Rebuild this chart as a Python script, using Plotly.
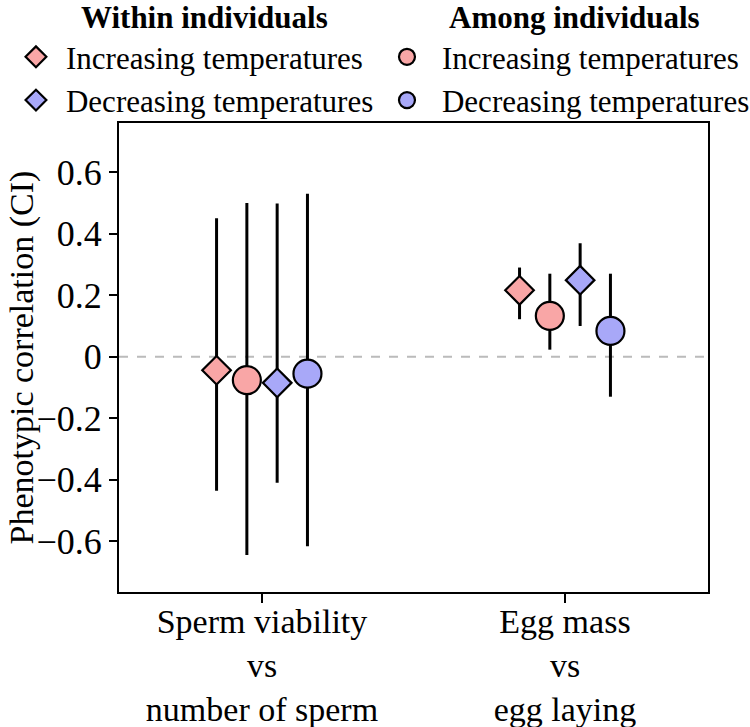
import plotly.graph_objects as go

# ---- data ----
categories = ["Sperm viability<br>vs<br>number of sperm", "Egg mass<br>vs<br>egg laying"]

within_inc_est = [-0.044, 0.216]
within_inc_lo = [-0.436, 0.122]
within_inc_hi = [0.450, 0.290]

among_inc_est = [-0.076, 0.133]
among_inc_lo = [-0.645, 0.023]
among_inc_hi = [0.500, 0.270]

within_dec_est = [-0.085, 0.249]
within_dec_lo = [-0.410, 0.100]
within_dec_hi = [0.498, 0.369]

among_dec_est = [-0.055, 0.084]
among_dec_lo = [-0.616, -0.130]
among_dec_hi = [0.530, 0.270]

ytick_vals = [-0.6, -0.4, -0.2, 0, 0.2, 0.4, 0.6]
ytick_text = ["\u22120.6", "\u22120.4", "\u22120.2", "0", "0.2", "0.4", "0.6"]

PINK = "#F9A6A6"
BLUE = "#A8A8F8"
FONT = "Liberation Serif"

fig = go.Figure()

series = [
    ("Increasing temperatures", within_inc_est, within_inc_lo, within_inc_hi, PINK, "diamond", 22, "legend", "g1"),
    ("Increasing temperatures", among_inc_est, among_inc_lo, among_inc_hi, PINK, "circle", 28, "legend2", "g2"),
    ("Decreasing temperatures", within_dec_est, within_dec_lo, within_dec_hi, BLUE, "diamond", 22, "legend", "g3"),
    ("Decreasing temperatures", among_dec_est, among_dec_lo, among_dec_hi, BLUE, "circle", 28, "legend2", "g4"),
]

for name, est, lo, hi, col, sym, size, leg, og in series:
    fig.add_trace(go.Scatter(
        x=categories, y=est, name=name, mode="markers",
        legend=leg, offsetgroup=og,
        marker=dict(symbol=sym, size=size, color=col, line=dict(color="black", width=2.2)),
        error_y=dict(type="data", symmetric=False,
                     array=[h - e for h, e in zip(hi, est)],
                     arrayminus=[e - l for e, l in zip(est, lo)],
                     color="black", thickness=3, width=0),
    ))

fig.add_hline(y=0, line=dict(color="#BBBBBB", width=2, dash="dash"), layer="below")

fig.update_layout(
    width=750, height=727,
    margin=dict(l=119, r=42, t=123, b=135, autoexpand=False),
    plot_bgcolor="white", paper_bgcolor="white",
    font=dict(family=FONT, size=34, color="black"),
    scattermode="group", scattergap=0.6,
    showlegend=True,
    legend=dict(x=-0.1919, y=1.198, xanchor="left", yanchor="top",
                font=dict(family=FONT, size=31), bgcolor="rgba(0,0,0,0)",
                itemsizing="trace", itemwidth=50, tracegroupgap=0),
    legend2=dict(x=0.4295, y=1.198, xanchor="left", yanchor="top",
                 font=dict(family=FONT, size=31), bgcolor="rgba(0,0,0,0)",
                 itemsizing="trace", itemwidth=60, tracegroupgap=0),
    annotations=[
        dict(text="<b>Within individuals</b>", x=0.146, y=1.226, xref="paper", yref="paper",
             showarrow=False, font=dict(family=FONT, size=31), xanchor="center", yanchor="middle"),
        dict(text="<b>Among individuals</b>", x=0.7725, y=1.226, xref="paper", yref="paper",
             showarrow=False, font=dict(family=FONT, size=31), xanchor="center", yanchor="middle"),
        dict(text="Phenotypic correlation (CI)", x=-0.1647, y=0.5, xref="paper", yref="paper",
             showarrow=False, textangle=-90, font=dict(family=FONT, size=34),
             xanchor="center", yanchor="middle"),
    ],
)

fig.update_xaxes(
    type="category", range=[-0.472, 1.472], automargin=False,
    showline=True, linecolor="black", linewidth=2, mirror=True,
    ticks="outside", ticklen=9, tickwidth=2, tickcolor="black",
    ticklabelstandoff=-11,
    showgrid=False, zeroline=False,
    tickfont=dict(family=FONT, size=34),
)
fig.update_yaxes(
    range=[-0.765, 0.76], automargin=False,
    tickvals=ytick_vals, ticktext=ytick_text,
    showline=True, linecolor="black", linewidth=2, mirror=True,
    ticks="outside", ticklen=8, tickwidth=2, tickcolor="black",
    showgrid=False, zeroline=False,
    tickfont=dict(family=FONT, size=36),
)

# remove the default 8px page margin so the figure fills the window exactly
fig.write_html("out.html", config={"displayModeBar": False},
               post_script="document.body.style.margin='0';")
